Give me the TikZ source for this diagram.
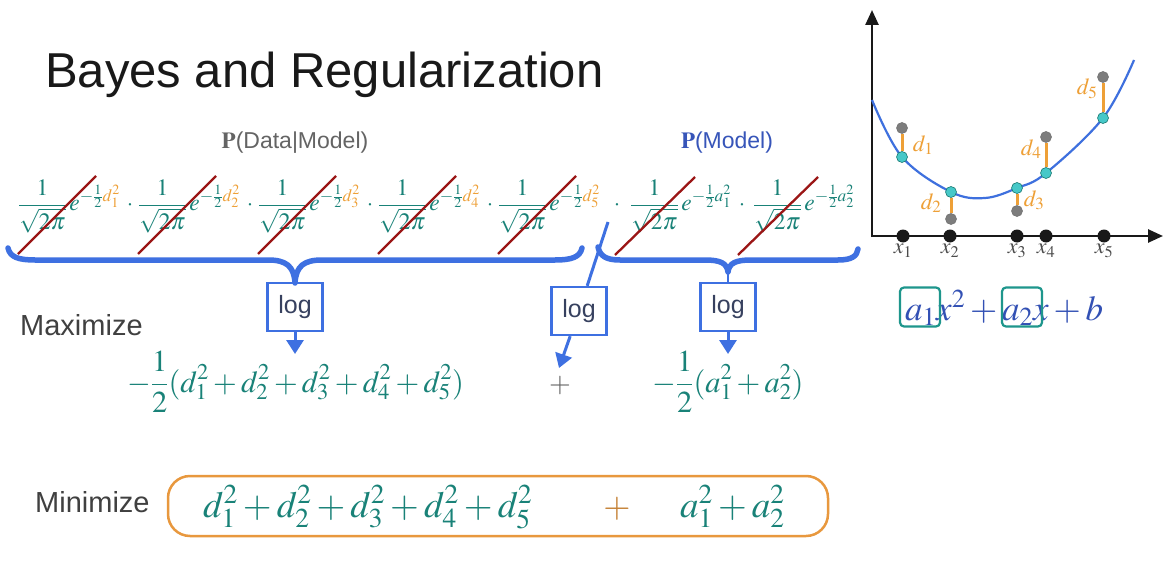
\documentclass[tikz,border=0pt]{standalone}
\usepackage{mathptmx}
\usepackage[no-math]{fontspec}
\setsansfont{Liberation Sans}
\usetikzlibrary{arrows.meta}
\definecolor{mteal}{RGB}{25,130,120}
\definecolor{dorange}{RGB}{238,160,55}
\definecolor{slashred}{RGB}{155,22,22}
\definecolor{bblue}{RGB}{62,112,225}
\definecolor{logtxt}{RGB}{55,65,95}
\definecolor{pblue}{RGB}{55,85,185}
\definecolor{eqblue}{RGB}{50,80,180}
\definecolor{boxteal}{RGB}{30,150,140}
\definecolor{ptgray}{RGB}{100,100,100}
\definecolor{dgray}{RGB}{125,125,125}
\definecolor{cyanpt}{RGB}{70,200,200}
\definecolor{curveblue}{RGB}{62,112,222}
\definecolor{minorange}{RGB}{232,152,62}
\newcommand{\fs}[1]{\fontsize{#1}{#1}\selectfont}
\begin{document}
\begin{tikzpicture}[x=1pt,y=-1pt,
  factor/.style={anchor=base west, inner sep=0pt, text=mteal, font=\fs{23.5}},
  mdot/.style={anchor=base, inner sep=0pt, text=mteal, font=\fs{23}},
  slash/.style={draw=slashred, line width=2.3pt},
  bluebrace/.style={draw=bblue, line width=5.5pt, line cap=round, line join=round},
  logbox/.style={draw=bblue, line width=2.3pt, minimum width=55pt, minimum height=48pt, inner sep=0pt, text=logtxt, font=\sffamily\fs{25}},
  logarrow/.style={draw=bblue, line width=3pt, -{Triangle[width=17pt,length=14pt]}},
  mathrow/.style={anchor=base west, inner sep=0pt, text=mteal},
  lbl/.style={anchor=base west, inner sep=0pt, font=\sffamily\fs{29}, text=black!75},
  axisline/.style={line width=2.5pt, black!90, -{Triangle[width=13pt,length=15pt]}},
  gdot/.style={circle, fill=dgray, draw=black!55, line width=0.6pt, minimum size=11pt, inner sep=0pt},
  cdot/.style={circle, fill=cyanpt, draw=boxteal!80!black, line width=0.6pt, minimum size=11pt, inner sep=0pt},
  xdot/.style={circle, fill=black!90, minimum size=13pt, inner sep=0pt},
  dlbl/.style={inner sep=0pt, text=dorange, font=\fs{23}},
  eqbox/.style={draw=boxteal, line width=2.2pt, rounded corners=4pt, minimum width=40pt, minimum height=39pt, inner sep=0pt}
]
\useasboundingbox (0,0) rectangle (1166,580);
\fill[white] (0,0) rectangle (1166,580);

% title and headings
\node[anchor=base west, inner sep=0pt, font=\sffamily\fs{49}, text=black!90] (title) at (45,88) {Bayes and Regularization};
\node[inner sep=0pt, font=\fs{23}, text=ptgray] (pdm) at (295,143) {$\mathbf{P}$\sffamily(Data|Model)};
\node[inner sep=0pt, font=\fs{23}, text=pblue] (pm) at (727,143) {$\mathbf{P}$\sffamily(Model)};

% data factors
\foreach \i/\x in {1/18,2/138,3/258,4/378,5/498} {
  \node[factor] (f\i) at (\x,211) {$\displaystyle\frac{1}{\sqrt{2\pi}}\,e^{-\frac{1}{2}\textcolor{dorange}{d_{\i}^2}}$};
  \draw[slash] ([shift={(0,43)}]f\i.base west) -- ([shift={(78,-35)}]f\i.base west);
}
% model factors
\foreach \i/\x in {1/630,2/753} {
  \node[factor] (g\i) at (\x,211) {$\displaystyle\frac{1}{\sqrt{2\pi}}\,e^{-\frac{1}{2}a_{\i}^2}$};
  \draw[slash] ([shift={(-15,44)}]g\i.base west) -- ([shift={(65,-34)}]g\i.base west);
}
\foreach \j/\x in {1/130,2/250,3/370,4/490,5/617,6/742} {
  \node[mdot] (dot\j) at (\x,211) {$\cdot$};
}

% braces
\coordinate (b1tip) at (295,283);
\draw[bluebrace] (8,248) .. controls (10,257) and (18,260) .. (35,260) -- (268,260) .. controls (286,260) and (294,266) .. (b1tip) .. controls (296,266) and (304,260) .. (322,260) -- (555,260) .. controls (572,260) and (580,257) .. (582,248);
\coordinate (b2tip) at (728,272);
\draw[bluebrace] (598,247) .. controls (600,256) and (606,260) .. (620,260) -- (705,260) .. controls (720,260) and (727,263) .. (b2tip) .. controls (729,263) and (736,260) .. (751,260) -- (838,260) .. controls (852,260) and (857,256) .. (858,249);

% log boxes
\node[logbox] (log1) at (295,307) {log};
\node[logbox] (log2) at (728,307) {log};
\node[logbox] (log3) at (579,311) {log};
\draw[bblue, line width=2.5pt] (b2tip) -- (log2);
\coordinate (a1end) at (295,354);
\coordinate (a2end) at (728,354);
\coordinate (lstart) at (608,222);
\coordinate (a3end) at (559,368);
\draw[logarrow] (log1) -- (a1end);
\draw[logarrow] (log2) -- (a2end);
\draw[bblue, line width=3pt] (lstart) -- (log3);
\draw[logarrow] (log3) -- (a3end);

% maximize row
\node[lbl] (maxi) at (20,335) {Maximize};
\node[mathrow, font=\fs{30.5}] (r2a) at (127,392) {$\displaystyle -\frac{1}{2}(d_1^2+d_2^2+d_3^2+d_4^2+d_5^2)$};
\node[anchor=base, inner sep=0pt, font=\fs{28}, text=ptgray] (plus1) at (560,392) {$+$};
\node[mathrow, font=\fs{30.5}] (r2b) at (652,392) {$\displaystyle -\frac{1}{2}(a_1^2+a_2^2)$};

% minimize row
\node[lbl] (mini) at (35,512) {Minimize};
\node[draw=minorange, line width=2.5pt, rounded corners=22pt, minimum width=660pt, minimum height=60pt] (minbox) at (498,506) {};
\node[mathrow, font=\fs{37}] (m1) at (203,517) {$d_1^2+d_2^2+d_3^2+d_4^2+d_5^2$};
\node[anchor=base, inner sep=0pt, font=\fs{35}, text=minorange!85!black] (plus2) at (617,517) {$+$};
\node[mathrow, font=\fs{37}] (m2) at (680,517) {$a_1^2+a_2^2$};

% chart
\coordinate (ytop) at (872,10);
\coordinate (xend) at (1163,236);
\draw[axisline] (872,237) -- (ytop);
\draw[axisline] (871,236) -- (xend);
\foreach \i/\x in {1/903,2/950,3/1017,4/1046,5/1104} {
  \node[xdot] (xp\i) at (\x,236) {};
  \node[anchor=north, inner sep=0pt, font=\fs{22}, text=black!70] (xl\i) at (\x,244) {$x_{\i}$};
}
\draw[curveblue, line width=2.2pt] plot[smooth, tension=0.6] coordinates {(872,100) (902,157) (951,192) (985,198) (1017,188) (1046,173) (1103,118) (1134,60)};
\foreach \i/\x/\yg/\yc in {1/902/128/157, 2/951/219/192, 3/1017/211/188, 4/1046/137/173, 5/1103/77/118} {
  \node[gdot] (gp\i) at (\x,\yg) {};
  \node[cdot] (cp\i) at (\x,\yc) {};
  \draw[dorange, line width=3pt] (gp\i) -- (cp\i);
}
\node[dlbl] (dl1) at (923,145) {$d_1$};
\node[dlbl] (dl2) at (931,203) {$d_2$};
\node[dlbl] (dl3) at (1034,200) {$d_3$};
\node[dlbl] (dl4) at (1031,149) {$d_4$};
\node[dlbl] (dl5) at (1087,89) {$d_5$};

% equation
\node[anchor=base west, inner sep=0pt, font=\fs{35}, text=eqblue] (eq) at (905,320) {$a_1x^2+a_2x+b$};
\node[eqbox] (bx1) at (920,307) {};
\node[eqbox] (bx2) at (1022,307) {};
\end{tikzpicture}
\end{document}
